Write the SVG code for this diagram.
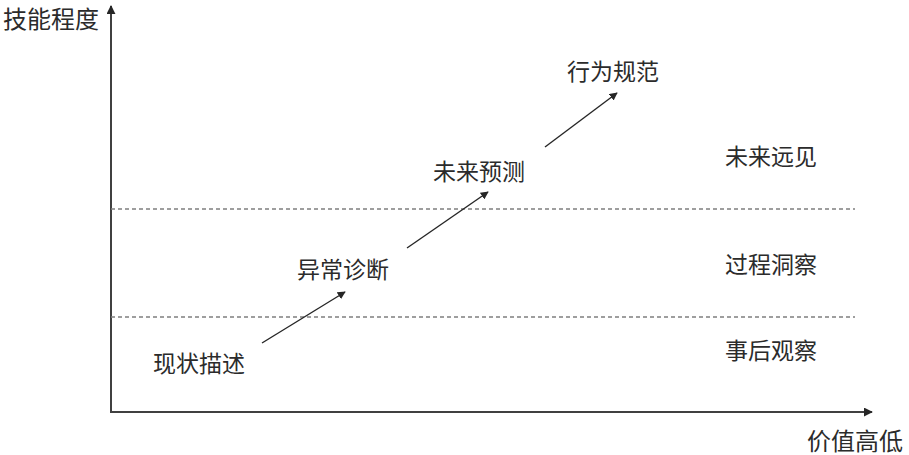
<svg xmlns="http://www.w3.org/2000/svg" width="909" height="455" viewBox="0 0 909 455">
<style>
.t{font-family:"Noto Sans CJK SC","Noto Sans",sans-serif;font-size:23px;fill:#2b2b2b;dominant-baseline:central}
.a{font-size:24px}
.ax{stroke:#404040;stroke-width:2;fill:none}
.dash{stroke:#7f7f7f;stroke-width:1.3;stroke-dasharray:4 3;fill:none}
.arr{stroke:#262626;stroke-width:1.4;fill:none}
</style>
<defs>
<marker id="ah" viewBox="0 0 10 10" refX="9" refY="5" markerWidth="8" markerHeight="8" markerUnits="userSpaceOnUse" orient="auto">
<path d="M0,0 L10,5 L0,10 z" fill="#262626"/>
</marker>
<marker id="axh" viewBox="0 0 10 10" refX="9" refY="5" markerWidth="9" markerHeight="9" markerUnits="userSpaceOnUse" orient="auto">
<path d="M0,0 L10,5 L0,10 z" fill="#262626"/>
</marker>
</defs>
<rect width="909" height="455" fill="#ffffff"/>
<g id="axes">
<line class="ax" x1="111" y1="412" x2="111" y2="6" marker-end="url(#axh)"/>
<line class="ax" x1="110" y1="412" x2="872" y2="412" marker-end="url(#axh)"/>
<text class="t a" x="3" y="17">技能程度</text>
<text class="t a" x="807" y="439">价值高低</text>
</g>
<g id="bands">
<line class="dash" x1="111" y1="209" x2="855" y2="209"/>
<line class="dash" x1="111" y1="317" x2="855" y2="317"/>
</g>
<g id="node-xianzhuang"><text class="t" x="153" y="362">现状描述</text></g>
<g id="node-yichang"><text class="t" x="297" y="268">异常诊断</text></g>
<g id="node-weilai"><text class="t" x="433" y="170">未来预测</text></g>
<g id="node-xingwei"><text class="t" x="567" y="70">行为规范</text></g>
<g id="zone-yuanjian"><text class="t" x="725" y="155">未来远见</text></g>
<g id="zone-dongcha"><text class="t" x="725" y="263">过程洞察</text></g>
<g id="zone-guancha"><text class="t" x="725" y="349">事后观察</text></g>
<g id="connectors">
<line class="arr" x1="262" y1="343" x2="345" y2="292" marker-end="url(#ah)"/>
<line class="arr" x1="407" y1="248" x2="488" y2="192" marker-end="url(#ah)"/>
<line class="arr" x1="545" y1="147" x2="617" y2="93" marker-end="url(#ah)"/>
</g>
</svg>
